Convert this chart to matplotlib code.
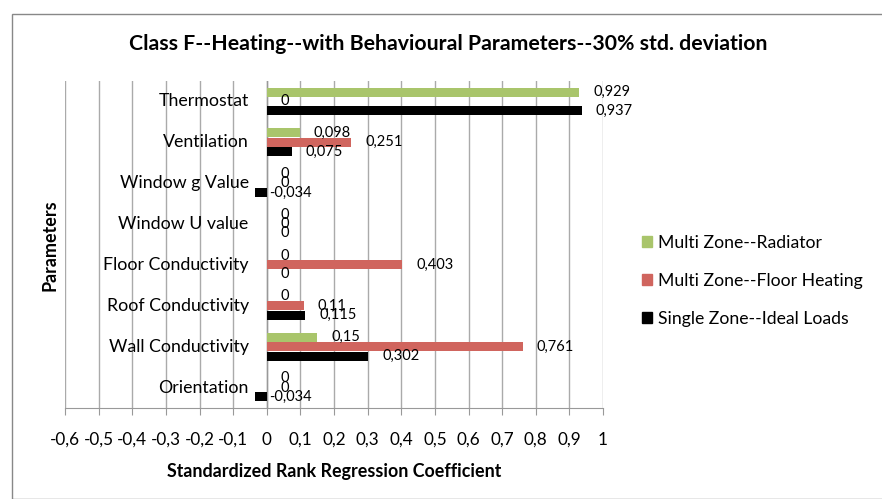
import matplotlib
matplotlib.use("Agg")
import matplotlib.pyplot as plt
from matplotlib.patches import Patch, Rectangle
import numpy as np

plt.rcParams['font.family'] = ['Lato', 'DejaVu Sans']

categories = ["Orientation", "Wall Conductivity", "Roof Conductivity", "Floor Conductivity",
              "Window U value", "Window g Value", "Ventilation", "Thermostat"]
series_names = ["Multi Zone--Radiator", "Multi Zone--Floor Heating", "Single Zone--Ideal Loads"]
radiator = [0, 0.15, 0, 0, 0, 0, 0.098, 0.929]
floor_heating = [0, 0.761, 0.11, 0.403, 0, 0, 0.251, 0]
ideal_loads = [-0.034, 0.302, 0.115, 0, 0, -0.034, 0.075, 0.937]
xticks = [-0.6, -0.5, -0.4, -0.3, -0.2, -0.1, 0, 0.1, 0.2, 0.3, 0.4, 0.5, 0.6, 0.7, 0.8, 0.9, 1.0]

colors = ["#a9c56b", "#d0655e", "#000000"]
offsets = [0.23, 0.0, -0.23]
bar_h = 0.22

W, H = 882, 499
fig = plt.figure(figsize=(W / 100, H / 100), dpi=100)
fig.patches.append(Rectangle((12 / W, 0), 2, (H - 14) / H, transform=fig.transFigure,
                             fill=False, edgecolor="#888888", linewidth=1.0))

left, right, top, bottom = 65, 603, 81, 408
ax = fig.add_axes([left / W, (H - bottom) / H, (right - left) / W, (bottom - top) / H])

y = np.arange(len(categories))
for vals, col, off, name in zip([radiator, floor_heating, ideal_loads], colors, offsets, series_names):
    ax.barh(y + off, vals, height=bar_h, color=col, label=name, zorder=3)
    for yi, v in zip(y, vals):
        lab = f"{v:g}".replace('.', ',')
        ax.annotate(lab, (v, yi + off), xytext=(10, 0), textcoords="offset points",
                    ha="left", va="center", fontsize=10.5, zorder=4)

ax.set_xlim(-0.6, 1.0)
ax.set_ylim(-0.5, len(categories) - 0.5)
ax.set_xticks(xticks)
ax.set_xticklabels([f"{t:g}".replace('.', ',') for t in xticks], fontsize=12.3)
ax.tick_params(axis='x', length=5, color="#999999", pad=12, direction='out')
ax.set_yticks([])
for s in ["left", "top", "right"]:
    ax.spines[s].set_visible(False)
ax.spines["bottom"].set_color("#999999")
ax.xaxis.grid(True, color="#aaaaaa", linewidth=1.0, zorder=0)
ax.set_axisbelow(True)
ax.axvline(0, color="#999999", linewidth=1.0, zorder=2)

for yi, c in zip(y, categories):
    ax.annotate(c, (0, yi), xytext=(-13, 0), textcoords="offset points",
                ha="right", va="center", fontsize=12.8, zorder=4)

ax.set_xlabel("Standardized Rank Regression Coefficient", fontsize=12.9, fontweight="bold", labelpad=11)
fig.text(50 / W, 1 - 245 / H, "Parameters", rotation=90, ha="center", va="center",
         fontsize=12.9, fontweight="bold")
fig.text(448 / W, 1 - 44 / H, "Class F--Heating--with Behavioural Parameters--30% std. deviation",
         ha="center", va="center", fontsize=15.3, fontweight="bold")

handles = [Patch(color=c, label=n) for c, n in zip(colors, series_names)]
fig.legend(handles=handles, loc="center left", bbox_to_anchor=(626 / W, 1 - 281 / H),
           frameon=False, fontsize=12.7, handlelength=0.55, handleheight=0.55,
           handletextpad=0.35, labelspacing=1.25)

fig.savefig("out.png", dpi=100)
